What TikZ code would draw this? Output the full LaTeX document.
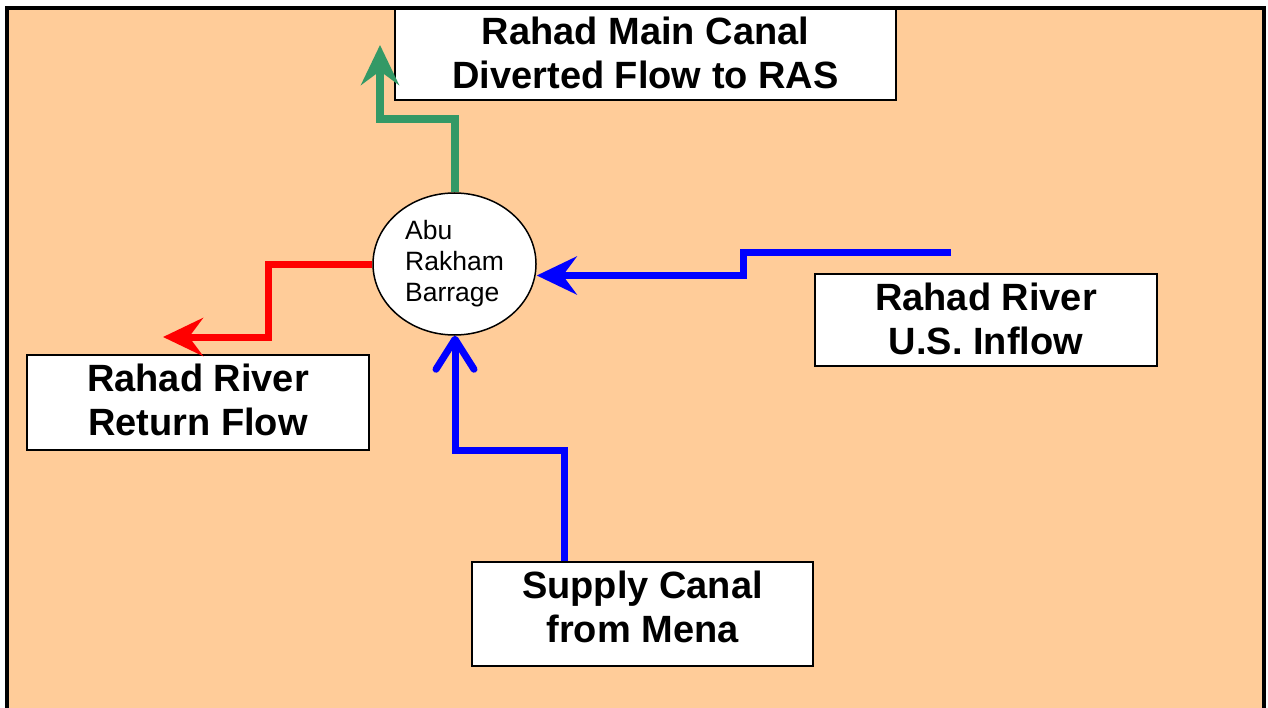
\documentclass[tikz,border=0pt]{standalone}
\usepackage{fontspec}
\setmainfont{Liberation Sans}
\usetikzlibrary{arrows.meta,shapes.geometric}
\definecolor{peach}{RGB}{255,204,153}
\definecolor{flowgreen}{RGB}{51,153,102}
\definecolor{flowblue}{RGB}{0,0,255}
\definecolor{flowred}{RGB}{255,0,0}
\newcommand{\liftlines}[2]{\raisebox{#1}[0pt][0pt]{\begin{tabular}{@{}c@{}}#2\end{tabular}}}
\tikzset{
  labelbox/.style={draw=black,line width=1.5pt,fill=white,inner sep=0pt,align=center,
    font=\bfseries\fontsize{38}{44}\selectfont},
  barragenode/.style={ellipse,draw=black,line width=1.5pt,fill=white,inner sep=0pt,
    minimum width=163pt,minimum height=142pt,align=left,font=\fontsize{26.5}{31}\selectfont},
  stealthflow/.style={line width=7pt,-{Stealth[length=40pt,width=38pt,inset=14pt]}},
  barbflow/.style={line width=7pt,-{Straight Barb[length=30pt,width=38pt,round]}}
}
\begin{document}
\begin{tikzpicture}[x=1pt,y=-1pt]
\useasboundingbox (0,0) rectangle (1268,708);
% frame
\fill[peach] (7,8) rectangle (1264,708);
\draw[line width=4.5pt] (7,708) -- (7,8) -- (1264,8) -- (1264,708);
% nodes
\node[barragenode] (barrage) at (454.5,264) {Abu\\Rakham\\Barrage};
\node[labelbox,minimum width=501pt,minimum height=91pt] (canal) at (645.5,54.5) {\liftlines{-9pt}{Rahad Main Canal\\Diverted Flow to RAS}};
\node[labelbox,minimum width=342pt,minimum height=95pt] (ret) at (198,402.5) {\liftlines{-8pt}{Rahad River\\Return Flow}};
\node[labelbox,minimum width=342pt,minimum height=92pt] (usin) at (986,320) {\liftlines{-9.5pt}{Rahad River\\U.S. Inflow}};
\node[labelbox,minimum width=341pt,minimum height=104pt] (supply) at (642.5,614) {\liftlines{-3.5pt}{Supply Canal\\from Mena}};
% connectors
\coordinate (gTip) at (380,45);
\draw[stealthflow,color=flowgreen,line width=8pt] (barrage.north) -- (454.5,119) -- (380,119) -- (gTip);
\coordinate (rTip) at (163,337);
\draw[stealthflow,color=flowred] (barrage.west |- 0,265) -- (268,265) -- (268,337) -- (rTip);
\coordinate (bStart) at (951,253);
\draw[stealthflow,color=flowblue] (bStart) -- (743,253) -- (743,275.5) -- (barrage.east |- 0,275.5);
\draw[barbflow,color=flowblue] (supply.north -| 564,0) -- (564,450.5) -- (455,450.5) -- (barrage.south -| 455,0);
\end{tikzpicture}
\end{document}
